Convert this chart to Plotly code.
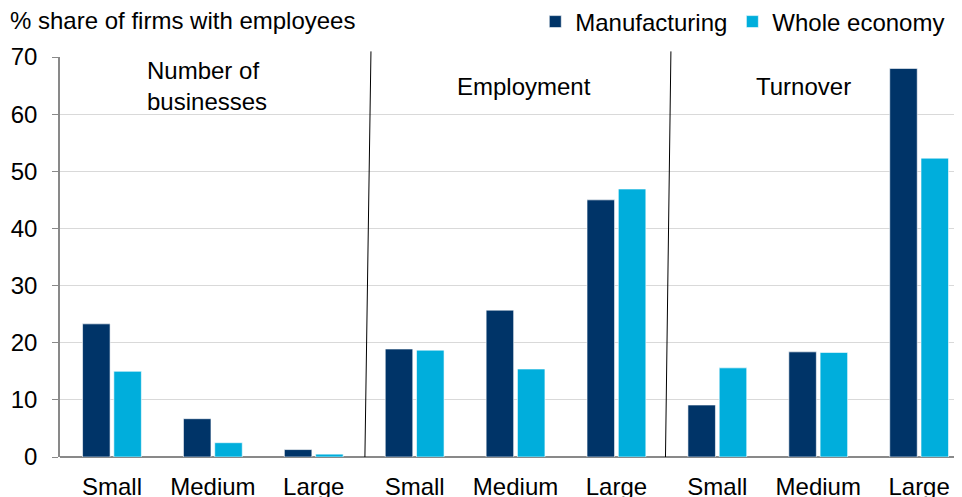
import plotly.graph_objects as go

# Data
sizes = ["Small", "Medium", "Large"]
groups = ["Number of<br>businesses", "Employment", "Turnover"]
manufacturing = [23.3, 6.7, 1.3, 18.9, 25.7, 45.0, 9.1, 18.4, 68.0]
whole_economy = [15.0, 2.5, 0.5, 18.7, 15.4, 46.9, 15.6, 18.3, 52.3]
y_ticks = [0, 10, 20, 30, 40, 50, 60, 70]

FONT = dict(family="Arial, Liberation Sans, sans-serif", size=24, color="#000000")
NAVY = "#003468"
CYAN = "#00AEDC"

x_pos = list(range(len(manufacturing)))
tick_text = sizes * len(groups)

fig = go.Figure()
fig.add_trace(go.Bar(
    x=x_pos, y=manufacturing, name="Manufacturing",
    marker=dict(color=NAVY, line=dict(color="rgba(255,255,255,0.6)", width=1)),
))
fig.add_trace(go.Bar(
    x=x_pos, y=whole_economy, name="Whole economy",
    marker=dict(color=CYAN, line=dict(color="rgba(255,255,255,0.6)", width=1)),
))

# separators between the three panels (slightly slanted, as in the original)
for top_x, bot_x in [(2.567, 2.507), (5.54, 5.486)]:
    fig.add_shape(type="line", xref="x", yref="paper",
                  x0=top_x, y0=1.014, x1=bot_x, y1=0,
                  line=dict(color="#000000", width=1))

# panel labels
fig.add_annotation(x=0.327, y=64.9, text=groups[0], showarrow=False,
                   xanchor="left", align="left", font=FONT)
fig.add_annotation(x=4.08, y=64.9, text=groups[1], showarrow=False, font=FONT)
fig.add_annotation(x=6.85, y=64.9, text=groups[2], showarrow=False, font=FONT)

# the page body adds an 8px offset, so margins are shifted to compensate
fig.update_layout(
    width=962, height=497,
    margin=dict(l=52, r=8, t=49, b=48, autoexpand=False),
    paper_bgcolor="white", plot_bgcolor="white",
    font=FONT,
    barmode="group", bargap=0.38, bargroupgap=0.12,
    title=dict(text="% share of firms with employees", x=2 / 962, xanchor="left",
               xref="container", y=1 - 13 / 497, yanchor="middle", yref="container",
               font=FONT),
    legend=dict(orientation="h", x=0.987, xanchor="right", y=1.0875, yanchor="middle",
                font=FONT, bgcolor="rgba(0,0,0,0)", itemwidth=30),
    showlegend=True,
)
fig.update_xaxes(
    range=[-0.515, 8.425], tickvals=x_pos, ticktext=tick_text,
    showgrid=False, zeroline=False, showline=False, ticks="",
    ticklabelstandoff=13, tickfont=FONT,
)
fig.update_yaxes(
    range=[0, 70], tickvals=y_ticks, showgrid=True, gridcolor="#D9D9D9", gridwidth=1,
    zeroline=True, zerolinecolor="#898989", zerolinewidth=1.5,
    showline=True, linecolor="#898989", linewidth=1.5,
    ticks="outside", ticklen=6, tickcolor="#898989", ticklabelstandoff=10,
    tickfont=FONT,
)

fig.write_html("out.html")
